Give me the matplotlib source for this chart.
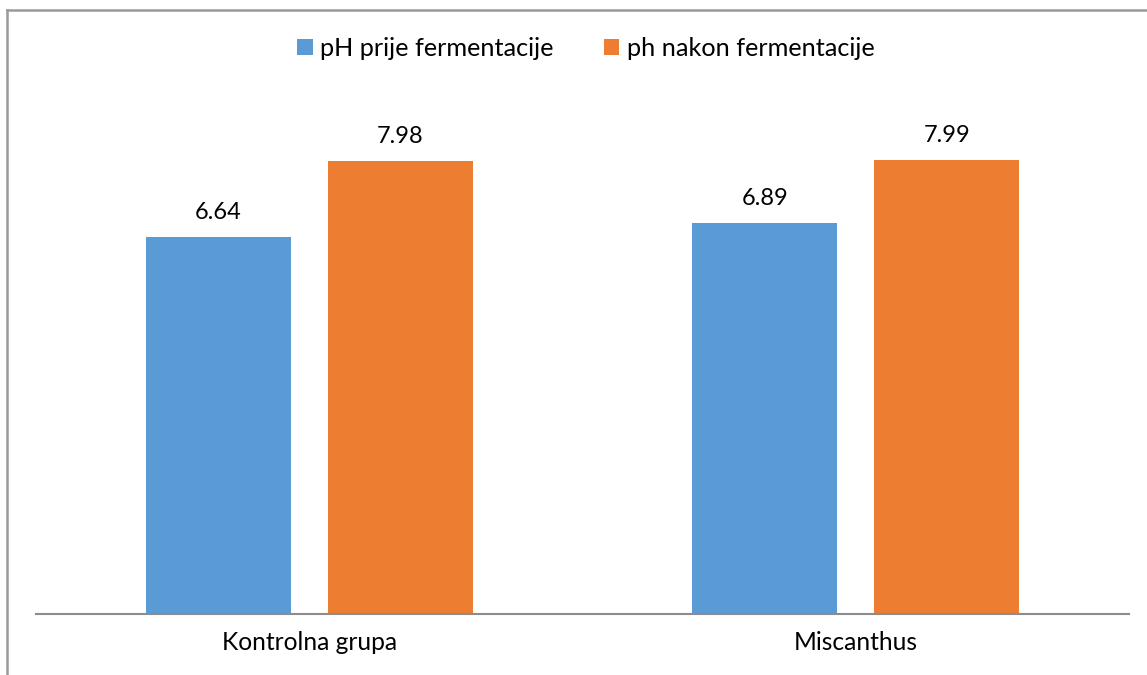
import matplotlib
matplotlib.use("Agg")
import matplotlib.pyplot as plt
from matplotlib.lines import Line2D
import numpy as np

categories = ["Kontrolna grupa", "Miscanthus"]
series_names = ["pH prije fermentacije", "ph nakon fermentacije"]
ph_before = [6.64, 6.89]
ph_after = [7.98, 7.99]
colors = ["#5B9BD5", "#ED7D31"]

plt.rcParams['font.family'] = ['Lato', 'DejaVu Sans']

fig = plt.figure(figsize=(11.47, 6.75), dpi=100)
ax = fig.add_axes([36/1147, 1-614/675, (1129-36)/1147, (614-103)/675])

x = np.arange(len(categories))
w = 0.265
off = 0.1665
b1 = ax.bar(x - off, ph_before, w, color=colors[0], label=series_names[0])
b2 = ax.bar(x + off, ph_after, w, color=colors[1], label=series_names[1])

for bars, vals in ((b1, ph_before), (b2, ph_after)):
    for r, v in zip(bars, vals):
        ax.annotate(f"{v:.2f}", (r.get_x() + r.get_width()/2, v),
                    xytext=(0, 10), textcoords="offset points",
                    ha="center", va="bottom", fontsize=17, color="#000000")

ax.set_xlim(-0.5, 1.5)
ax.set_ylim(0, 9)
ax.set_yticks([])
ax.set_xticks(x)
ax.set_xticklabels(categories, fontsize=17.7)
ax.tick_params(axis='x', length=0, pad=12)
for s in ("top", "right", "left"):
    ax.spines[s].set_visible(False)
ax.spines["bottom"].set_color("#8C8C8C")
ax.spines["bottom"].set_linewidth(1.5)

fig.legend(handles=[b1, b2], labels=series_names, loc="center",
           bbox_to_anchor=(586/1147, 1-48/675), ncol=2, frameon=False,
           fontsize=18.2, handlelength=0.6, handleheight=0.6, handletextpad=0.3,
           columnspacing=2.0)

# chart border (top and left visible)
fig.add_artist(Line2D([7/1147, 1], [1-9.5/675, 1-9.5/675], color="#9A9A9A", lw=1.8,
                      transform=fig.transFigure))
fig.add_artist(Line2D([7/1147, 7/1147], [0, 1-9.5/675], color="#9A9A9A", lw=1.8,
                      transform=fig.transFigure))

fig.savefig("out.png", dpi=100)
